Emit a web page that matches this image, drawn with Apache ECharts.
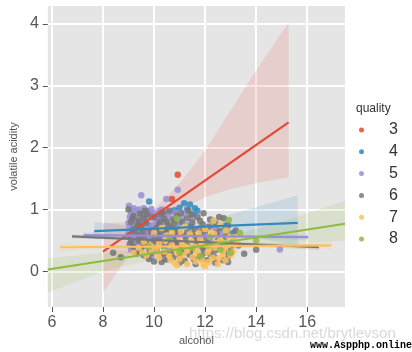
<!DOCTYPE html>
<html>
<head>
<meta charset="utf-8">
<script src="https://cdn.jsdelivr.net/npm/echarts@6/dist/echarts.min.js"></script>
<style>
html, body { margin: 0; padding: 0; background: #fff; }
#chart { width: 412px; height: 352px; }
</style>
</head>
<body>
<div id="chart"></div>
<script>
const qualities = ['3', '4', '5', '6', '7', '8']
const colors = ['#E24A33', '#348ABD', '#988ED5', '#777777', '#FBC15E', '#8EBA42']
const xTicks = [6, 8, 10, 12, 14, 16]
const yTicks = [0, 1, 2, 3, 4]

// 散点 [alcohol, volatile acidity]
const pts3 = [[9.72, 0.98], [10.7, 1.17], [10.93, 1.56], [9.4, 0.82], [10.2, 0.76], [9.8, 0.64], [11.0, 0.59], [10.9, 0.44], [9.1, 0.58], [9.6, 0.55]]
const pts4 = [[9.81, 1.13], [11.18, 1.10], [11.41, 1.08], [11.0, 1.03], [11.53, 0.92], [10.8, 0.99], [11.3, 1.0], [11.7, 0.98], [12.3, 0.82], [12.8, 0.74], [9.6, 0.90], [10.1, 0.86], [10.5, 0.68], [9.4, 0.74], [11.9, 0.60], [10.2, 0.55], [9.9, 0.42], [12.0, 0.38], [10.4, 0.30], [13.1, 0.62], [9.2, 0.66], [11.6, 1.02]]
const pts5 = [[9.5, 1.23], [10.48, 1.17], [10.93, 1.32], [9.02, 1.06], [14.93, 0.355],
  [9.1, 0.95], [9.2, 0.88], [9.3, 0.98], [9.4, 1.0], [9.5, 0.93], [9.6, 1.02], [9.7, 0.96], [9.8, 0.9], [9.9, 1.01], [10.0, 0.94], [10.2, 0.97], [10.4, 0.92], [10.6, 0.88], [10.8, 0.95], [11.1, 0.87],
  [9.0, 0.78], [9.2, 0.72], [9.3, 0.66], [9.5, 0.80], [9.6, 0.70], [9.8, 0.75], [10.0, 0.68], [10.1, 0.80], [10.3, 0.72], [10.5, 0.78], [10.9, 0.70], [11.3, 0.75],
  [9.1, 0.55], [9.3, 0.50], [9.4, 0.58], [9.6, 0.45], [9.7, 0.60], [9.9, 0.52], [10.1, 0.42], [10.3, 0.58], [10.7, 0.50], [11.0, 0.62], [11.6, 0.55], [12.2, 0.50],
  [9.2, 0.38], [9.5, 0.33], [9.8, 0.30], [10.2, 0.26], [10.6, 0.33], [11.4, 0.28], [12.5, 0.40], [13.0, 0.45], [9.0, 0.62], [9.4, 0.43], [10.4, 0.20], [11.8, 0.70], [12.6, 0.62],
  [9.05, 0.88], [9.15, 0.68], [9.25, 0.45], [9.35, 0.85], [9.45, 0.62], [9.55, 0.52], [9.65, 0.88], [9.75, 0.40], [9.85, 0.68], [9.95, 0.86], [10.05, 0.58],
  [9.05, 0.72], [9.15, 0.50], [9.25, 0.82], [9.35, 0.58], [9.45, 0.70], [9.55, 0.42], [9.65, 0.78], [9.75, 0.53], [9.85, 0.96], [9.95, 0.74], [10.05, 0.46], [10.15, 0.90], [10.25, 0.64], [10.35, 0.84], [10.45, 0.55], [10.55, 0.95], [10.65, 0.68], [10.75, 0.40], [10.85, 0.82], [11.2, 0.95], [11.5, 0.85], [9.1, 0.35], [9.3, 0.28], [9.9, 0.24], [12.0, 0.60], [12.4, 0.70], [11.0, 0.78], [9.2, 1.02], [10.3, 1.0]]
const pts6 = [[12.73, 0.86], [11.94, 0.94], [12.07, 0.18], [12.7, 0.18], [11.63, 0.12], [13.53, 0.285], [14.0, 0.35], [8.4, 0.30], [8.7, 0.23], [9.0, 1.0],
  [9.2, 0.9], [9.6, 0.86], [10.0, 0.88], [10.4, 0.85], [10.9, 0.9], [11.3, 0.86], [11.7, 0.88], [10.6, 0.98], [12.2, 0.84],
  [9.1, 0.80], [9.4, 0.82], [9.7, 0.78], [10.2, 0.76], [10.5, 0.80], [10.8, 0.78], [11.1, 0.80], [11.5, 0.79], [11.9, 0.76], [12.4, 0.78], [12.9, 0.74],
  [9.2, 0.68], [9.5, 0.72], [9.9, 0.66], [10.1, 0.70], [10.4, 0.66], [10.7, 0.70], [11.0, 0.67], [11.3, 0.64], [11.6, 0.68], [12.0, 0.66], [12.6, 0.70], [13.2, 0.66],
  [9.0, 0.57], [9.3, 0.60], [9.6, 0.56], [9.9, 0.60], [10.2, 0.58], [10.5, 0.62], [10.8, 0.57], [11.2, 0.58], [11.5, 0.61], [11.8, 0.56], [12.3, 0.59], [12.8, 0.56],
  [9.1, 0.48], [9.4, 0.50], [9.7, 0.46], [10.0, 0.50], [10.3, 0.47], [10.6, 0.44], [10.9, 0.49], [11.3, 0.46], [11.7, 0.49], [12.1, 0.45], [12.5, 0.50],
  [9.2, 0.40], [9.5, 0.37], [9.8, 0.41], [10.1, 0.36], [10.4, 0.39], [10.8, 0.36], [11.1, 0.40], [11.5, 0.35], [11.9, 0.38], [12.4, 0.34], [13.0, 0.37],
  [9.3, 0.30], [9.6, 0.26], [9.9, 0.30], [10.3, 0.27], [10.7, 0.29], [11.0, 0.24], [11.4, 0.27], [11.8, 0.23], [12.2, 0.28], [12.9, 0.25],
  [9.8, 0.20], [10.5, 0.19], [11.2, 0.17], [11.9, 0.20], [12.4, 0.14], [10.0, 0.16],
  [9.45, 0.93], [10.25, 0.92], [10.75, 0.84], [11.45, 0.92], [9.35, 0.75], [10.6, 0.74], [11.8, 0.82], [9.55, 0.64], [10.95, 0.62], [12.15, 0.72],
  [9.15, 0.85], [9.45, 0.55], [9.75, 0.92], [10.15, 0.62], [10.35, 0.95], [10.55, 0.52], [10.85, 0.65], [11.05, 0.94], [11.25, 0.52], [11.45, 0.72], [11.65, 0.42], [11.85, 0.64], [12.05, 0.52], [12.25, 0.40], [12.45, 0.62], [12.65, 0.45], [12.85, 0.65], [13.1, 0.50], [13.3, 0.42],
  [9.25, 0.32], [9.55, 0.45], [9.85, 0.35], [10.15, 0.44], [10.45, 0.30], [10.75, 0.22], [11.15, 0.31], [11.55, 0.20], [11.95, 0.30], [12.35, 0.24], [12.75, 0.32], [10.3, 0.15], [11.0, 0.14], [12.9, 0.15], [9.05, 0.44], [9.65, 0.98], [11.35, 0.98], [12.55, 0.88], [10.95, 0.42], [11.65, 0.55], [10.25, 0.80]]
const pts7 = [[12.35, 0.61], [12.83, 0.66], [11.94, 0.11], [12.33, 0.82], [13.15, 0.55], [12.0, 0.08],
  [10.0, 0.62], [10.5, 0.58], [11.0, 0.55], [11.4, 0.60], [11.8, 0.52], [12.2, 0.56], [12.6, 0.50], [9.6, 0.48], [10.2, 0.45], [10.7, 0.42], [11.1, 0.46], [11.6, 0.40], [12.0, 0.44], [12.4, 0.38], [12.9, 0.42], [13.1, 0.32],
  [9.4, 0.38], [9.9, 0.34], [10.4, 0.32], [10.9, 0.30], [11.3, 0.33], [11.7, 0.29], [12.1, 0.31], [12.7, 0.28],
  [9.7, 0.26], [10.2, 0.22], [10.6, 0.25], [11.0, 0.20], [11.5, 0.23], [11.9, 0.18], [12.3, 0.22], [12.8, 0.18], [10.8, 0.14], [11.3, 0.12], [12.5, 0.12],
  [9.2, 0.30], [10.3, 0.70], [11.2, 0.72], [12.0, 0.68], [12.6, 0.75],
  [10.1, 0.38], [10.45, 0.50], [10.85, 0.36], [11.25, 0.40], [11.45, 0.50], [11.65, 0.34], [11.85, 0.45], [12.15, 0.36], [12.45, 0.46], [12.75, 0.36], [13.0, 0.26], [12.55, 0.22], [12.15, 0.15], [11.65, 0.16], [11.15, 0.26], [10.65, 0.18], [10.15, 0.28], [9.85, 0.42], [9.55, 0.30], [13.2, 0.44], [12.25, 0.62], [11.75, 0.62], [11.05, 0.65], [10.7, 0.62], [12.95, 0.55], [10.9, 0.10]]
const pts8 = [[12.93, 0.83], [13.37, 0.62], [12.6, 0.35], [11.0, 0.30], [9.8, 0.40], [12.8, 0.45], [10.6, 0.55], [11.5, 0.38], [12.1, 0.42], [14.0, 0.50], [11.8, 0.25], [13.0, 0.30], [12.2, 0.55], [10.9, 0.85]]

// 回归线端点
const fitX0 = [8.0, 7.66, 7.24, 6.79, 6.31, 5.84]
const fitY0 = [0.32, 0.65, 0.585, 0.565, 0.39, 0.03]
const fitX1 = [15.27, 15.63, 16.04, 16.46, 16.94, 17.48]
const fitY1 = [2.41, 0.785, 0.553, 0.39, 0.42, 0.77]

// 置信区间
const ciX3 = [8.0, 9, 10, 11, 12, 13, 14, 15.27]
const ciLo3 = [-0.35, 0.25, 0.72, 1.0, 1.2, 1.33, 1.43, 1.52]
const ciHi3 = [0.78, 0.8, 1.0, 1.42, 1.95, 2.6, 3.25, 4.02]
const ciX4 = [7.66, 9, 10.5, 12, 13.5, 15.63]
const ciLo4 = [0.52, 0.60, 0.66, 0.65, 0.58, 0.42]
const ciHi4 = [0.80, 0.74, 0.72, 0.80, 0.98, 1.23]
const ciX5 = [7.24, 9, 10.5, 12, 14, 16.04]
const ciLo5 = [0.53, 0.56, 0.565, 0.56, 0.535, 0.50]
const ciHi5 = [0.64, 0.60, 0.585, 0.585, 0.59, 0.61]
const ciX6 = [6.79, 8.5, 10.5, 12.5, 14.5, 16.46]
const ciLo6 = [0.53, 0.515, 0.487, 0.45, 0.395, 0.34]
const ciHi6 = [0.60, 0.555, 0.51, 0.475, 0.46, 0.44]
const ciX7 = [6.31, 8.5, 10.5, 12.5, 14.5, 16.94]
const ciLo7 = [0.32, 0.37, 0.39, 0.39, 0.38, 0.36]
const ciHi7 = [0.46, 0.42, 0.415, 0.425, 0.45, 0.48]
const ciX8 = [5.84, 8, 10, 11.5, 13, 15, 17.48]
const ciLo8 = [-0.34, 0.0, 0.20, 0.33, 0.40, 0.45, 0.50]
const ciHi8 = [0.21, 0.30, 0.37, 0.45, 0.58, 0.80, 1.14]

const allPts = [pts3, pts4, pts5, pts6, pts7, pts8]
const allCi = [[ciX3, ciLo3, ciHi3], [ciX4, ciLo4, ciHi4], [ciX5, ciLo5, ciHi5], [ciX6, ciLo6, ciHi6], [ciX7, ciLo7, ciHi7], [ciX8, ciLo8, ciHi8]]

function rgba(hex, a) {
  const n = parseInt(hex.slice(1), 16)
  return `rgba(${n >> 16},${(n >> 8) & 255},${n & 255},${a})`
}

const FONT = '"Liberation Sans", Arial, sans-serif'
const series = []

// 置信带（多边形）
allCi.forEach(([xs, lo, hi], i) => {
  series.push({
    type: 'custom',
    name: 'ci' + qualities[i],
    silent: true,
    z: 1,
    data: xs.map((x, k) => [x, lo[k], hi[k]]),
    encode: { x: 0, y: [1, 2] },
    renderItem(params, api) {
      if (params.dataIndex !== 0) return null
      const pts = []
      xs.forEach((x, k) => pts.push(api.coord([x, hi[k]])))
      for (let k = xs.length - 1; k >= 0; k--) pts.push(api.coord([xs[k], lo[k]]))
      return { type: 'polygon', shape: { points: pts }, style: { fill: rgba(colors[i], 0.15) } }
    }
  })
})

allPts.forEach((pts, i) => {
  series.push({
    type: 'scatter',
    name: qualities[i],
    z: 2,
    symbolSize: 6.5,
    itemStyle: { color: colors[i], opacity: 0.85 },
    data: pts
  })
})

qualities.forEach((q, i) => {
  series.push({
    type: 'line',
    name: 'fit' + q,
    z: 3,
    symbol: 'none',
    silent: true,
    lineStyle: { color: colors[i], width: 2.2 },
    data: [[fitX0[i], fitY0[i]], [fitX1[i], fitY1[i]]]
  })
})

const chart = echarts.init(document.getElementById('chart'))
chart.setOption({
  animation: false,
  textStyle: { fontFamily: FONT },
  grid: { left: 40, right: 67, top: 6, bottom: 45, show: true, backgroundColor: '#E5E5E5', borderWidth: 0 },
  title: {
    text: 'quality',
    left: 356,
    top: 103,
    padding: 0,
    textStyle: { fontSize: 12, fontWeight: 'normal', color: '#333', fontFamily: FONT }
  },
  legend: {
    data: qualities,
    orient: 'vertical',
    left: 359,
    top: 122,
    padding: 0,
    icon: 'circle',
    itemWidth: 5,
    itemHeight: 5,
    itemGap: 5.8,
    textStyle: { fontSize: 16, lineHeight: 16, color: '#333', padding: [0, 0, 0, 20], fontFamily: FONT }
  },
  xAxis: {
    type: 'value',
    min: 5.84,
    max: 17.48,
    name: 'alcohol',
    nameLocation: 'middle',
    nameGap: 28,
    nameTextStyle: { fontSize: 11, color: '#555' },
    axisLine: { show: false, onZero: false },
    axisTick: { customValues: xTicks, length: 5, lineStyle: { color: '#555' } },
    axisLabel: { customValues: xTicks, fontSize: 16, color: '#555', margin: 8 },
    splitLine: { lineStyle: { color: '#fff', width: 2 } }
  },
  yAxis: {
    type: 'value',
    min: -0.576,
    max: 4.29,
    name: 'volatile acidity',
    nameLocation: 'middle',
    nameGap: 23,
    nameTextStyle: { fontSize: 11, color: '#555' },
    axisLine: { show: false, onZero: false },
    axisTick: { customValues: yTicks, length: 5, lineStyle: { color: '#555' } },
    axisLabel: { customValues: yTicks, fontSize: 16, color: '#555', margin: 9 },
    splitLine: { lineStyle: { color: '#fff', width: 2 } }
  },
  graphic: [
    { type: 'text', left: 189, top: 326, silent: true, style: { text: 'https://blog.csdn.net/brytlevson', font: '15px ' + FONT, fill: 'rgba(185,185,185,0.55)' } },
    { type: 'text', left: 310, top: 340, silent: true, style: { text: 'www.Aspphp.online', font: 'bold 10px "Liberation Mono", monospace', fill: '#000' } }
  ],
  series
})
</script>
</body>
</html>
